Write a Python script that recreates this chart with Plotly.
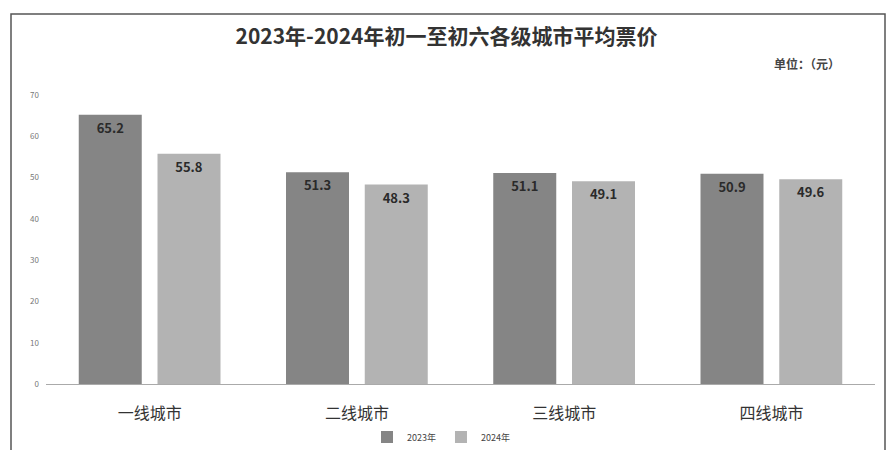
import plotly.graph_objects as go

categories = ["一线城市", "二线城市", "三线城市", "四线城市"]
values_2023 = [65.2, 51.3, 51.1, 50.9]
values_2024 = [55.8, 48.3, 49.1, 49.6]
series_names = ["2023年", "2024年"]
y_ticks = [0, 10, 20, 30, 40, 50, 60, 70]

FONT = "Noto Sans CJK SC"

fig = go.Figure()
fig.add_trace(go.Bar(
    x=categories, y=values_2023, name=series_names[0],
    marker=dict(color="#858585", line=dict(width=0)),
    text=[f"{v:.1f}" for v in values_2023], textposition="inside",
    insidetextanchor="end", textangle=0,
    textfont=dict(size=13, color="#2a2a2a", family=FONT, weight="bold"),
))
fig.add_trace(go.Bar(
    x=categories, y=values_2024, name=series_names[1],
    marker=dict(color="#b3b3b3", line=dict(width=0)),
    text=[f"{v:.1f}" for v in values_2024], textposition="inside",
    insidetextanchor="end", textangle=0,
    textfont=dict(size=13, color="#2a2a2a", family=FONT, weight="bold"),
))

W, H = 893, 450
l, r, t, b = 46, 18, 95, 66
pw, ph = W - l - r, H - t - b

def px(x):
    return (x - l) / pw

def py(y):
    return (H - b - y) / ph

fig.update_layout(
    width=W, height=H,
    margin=dict(l=l, r=r, t=t, b=b, autoexpand=False),
    paper_bgcolor="white", plot_bgcolor="white",
    font=dict(family=FONT, color="#333333"),
    barmode="group", bargap=0.24, bargroupgap=0.2,
    title=dict(text="<b>2023年-2024年初一至初六各级城市平均票价</b>",
               x=0.5, xanchor="center", y=1 - 37 / H, yanchor="middle",
               font=dict(size=21, color="#333333", family=FONT)),
    showlegend=True,
    legend=dict(orientation="h", x=px(441), xanchor="center",
                yref="container", y=1 - 437 / H, yanchor="middle",
                font=dict(size=9, color="#444444"),
                itemwidth=30, traceorder="normal"),
    xaxis=dict(showgrid=False, showline=True, linecolor="#aaaaaa", linewidth=1,
               ticks="", tickfont=dict(size=16, color="#333333"),
               ticklabelstandoff=15, automargin=False),
    yaxis=dict(range=[0, 70], tickvals=y_ticks, showgrid=False,
               zeroline=False, showline=False, ticks="",
               tickfont=dict(size=8, color="#777777"),
               ticklabelstandoff=6, automargin=False),
    shapes=[dict(type="rect", xref="paper", yref="paper",
                 x0=px(11), x1=px(885), y0=py(470), y1=py(14),
                 line=dict(color="#555555", width=1.5), fillcolor="rgba(0,0,0,0)",
                 layer="below")],
    annotations=[dict(text="<b>单位：（元）</b>", xref="paper", yref="paper",
                      x=px(842), y=py(63), xanchor="right", yanchor="middle",
                      showarrow=False, font=dict(size=12, color="#444444"))],
)

fig.write_html("out.html")
